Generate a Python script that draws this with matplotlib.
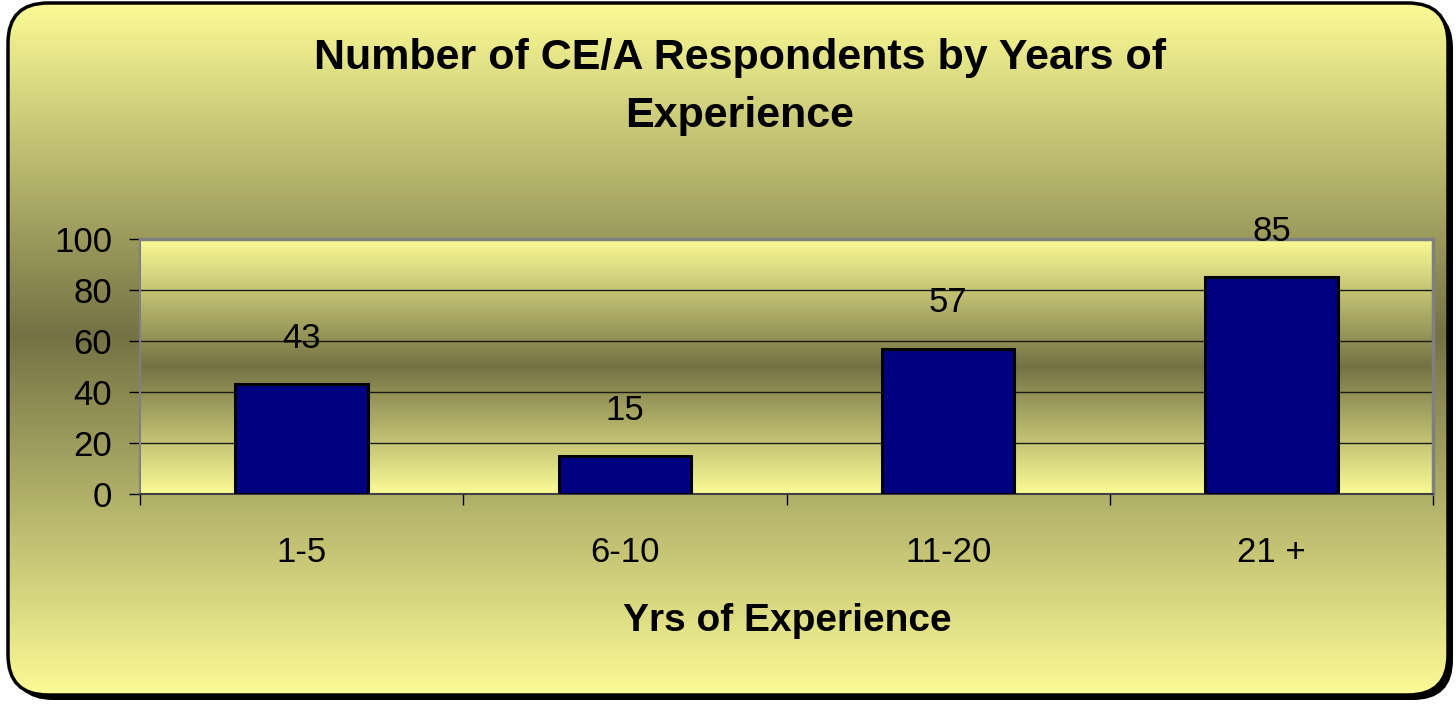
import numpy as np
import matplotlib.pyplot as plt
from matplotlib.patches import FancyBboxPatch

# data
categories = ['1-5', '6-10', '11-20', '21 +']
respondents = [43, 15, 57, 85]
yticks = [0, 20, 40, 60, 80, 100]

plt.rcParams['font.family'] = ['Liberation Sans', 'DejaVu Sans']

W, H = 1456, 708
fig = plt.figure(figsize=(W / 100, H / 100), dpi=100)
fig.patch.set_facecolor('white')

light = np.array([251, 251, 150]) / 255
dark = np.array([116, 114, 68]) / 255


def gradient(n, mid=0.5):
    # light -> dark -> light, vertical
    t = np.linspace(0, 1, n)
    w = np.where(t < mid, t / mid, (1 - t) / (1 - mid))
    cols = light[None, :] * (1 - w[:, None]) + dark[None, :] * w[:, None]
    return cols[:, None, :]


# background panel with rounded corners and shadow
bg = fig.add_axes([0, 0, 1, 1])
bg.set_xlim(0, W)
bg.set_ylim(H, 0)
bg.axis('off')
shadow = FancyBboxPatch((13, 8), 1440, 692, boxstyle='round,pad=0,rounding_size=40',
                        fc='black', ec='none', zorder=1)
bg.add_patch(shadow)
box = FancyBboxPatch((8, 3), 1440, 692, boxstyle='round,pad=0,rounding_size=40',
                     fc='none', ec='black', lw=2.5, zorder=3)
bg.add_patch(box)
im = bg.imshow(gradient(400, 0.48), extent=(8, 1448, 695, 3), aspect='auto', zorder=2)
im.set_clip_path(box)

# plot area
left, right, top, bottom = 140, 1433, 239, 494
ax = fig.add_axes([left / W, (H - bottom) / H, (right - left) / W, (bottom - top) / H])
ax.patch.set_alpha(0)
ax.imshow(gradient(300), extent=(0, 1, 0, 1), transform=ax.transAxes,
          aspect='auto', zorder=0)

x = np.arange(len(categories))
bars = ax.bar(x, respondents, width=0.41, color='#000080', edgecolor='black',
              linewidth=2.2, zorder=3)
ax.bar_label(bars, padding=21, fontsize=25)

ax.set_xlim(-0.5, len(categories) - 0.5)
ax.set_ylim(0, 100)
ax.set_yticks(yticks)
ax.yaxis.grid(True, color='#1a1a1a', lw=1)
ax.set_axisbelow(True)
ax.tick_params(axis='y', labelsize=25, length=8, width=1, pad=12)
ax.set_xticks(x)
ax.set_xticklabels(categories)
ax.set_xticks(np.arange(-0.5, len(categories)), minor=True)
ax.tick_params(axis='x', which='major', length=0, labelsize=25, pad=30)
ax.tick_params(axis='x', which='minor', length=8, width=1)

for s in ['top', 'right']:
    ax.spines[s].set_color('#808080')
    ax.spines[s].set_linewidth(2.5)
ax.spines['left'].set_color('#808080')
ax.spines['left'].set_linewidth(1.5)
ax.spines['bottom'].set_color('#404040')
ax.spines['bottom'].set_linewidth(1.5)

fig.text(740 / W, 1 - 87 / H, 'Number of CE/A Respondents by Years of\nExperience',
         ha='center', va='center', fontsize=31, fontweight='bold', linespacing=1.55)
fig.text(787 / W, 1 - 621 / H, 'Yrs of Experience', ha='center', va='center',
         fontsize=28, fontweight='bold')

fig.savefig('out.png', dpi=100)
